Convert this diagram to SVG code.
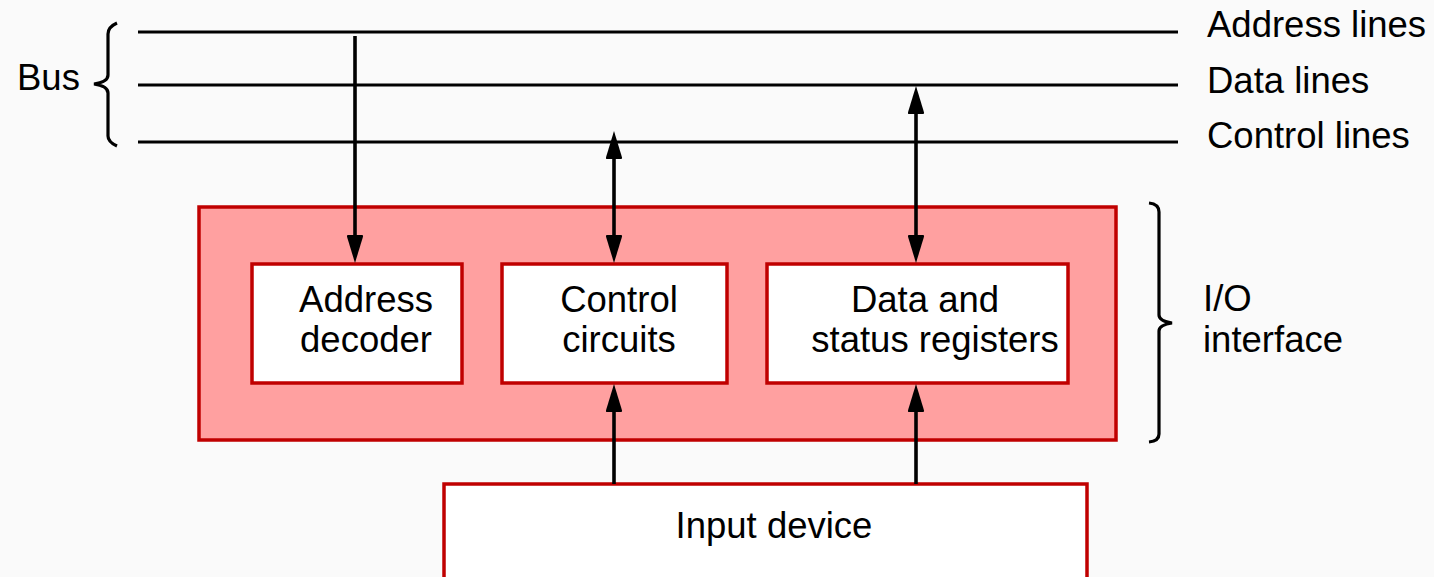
<svg xmlns="http://www.w3.org/2000/svg" width="1434" height="577" viewBox="0 0 1434 577">
<defs>
<style>
text{font-family:"Liberation Sans",Arial,sans-serif;font-size:36.5px;fill:#000}
.bus{stroke:#000;stroke-width:3.2;fill:none}
.box{fill:#fff;stroke:#C00000;stroke-width:3.5}
.conn{stroke:#000;stroke-width:3.6;fill:none}
.mid{text-anchor:middle}
</style>
<marker id="ah" viewBox="0 0 28 17" refX="20" refY="8.5" markerWidth="28" markerHeight="17" markerUnits="userSpaceOnUse" orient="auto-start-reverse">
<path d="M0,1.5 Q0,0 2,0.6 L28,8.5 L2,16.4 Q0,17 0,15.5 Z" fill="#000"/>
</marker>
</defs>
<rect width="1434" height="577" fill="#FAFAFA"/>
<g id="bus">
<line class="bus" x1="138" y1="32" x2="1178" y2="32"/>
<line class="bus" x1="138" y1="85" x2="1178" y2="85"/>
<line class="bus" x1="138" y1="142" x2="1178" y2="142"/>
<path class="bus" d="M117,23 Q108,27 108,34 L108,75 Q108,82 94,84 Q108,86 108,93 L108,136 Q108,142 117,146"/>
<text x="17" y="90">Bus</text>
<text x="1207" y="37">Address lines</text>
<text x="1207" y="93">Data lines</text>
<text x="1207" y="148">Control lines</text>
</g>
<g id="io-interface">
<rect x="199" y="207" width="917" height="233" fill="#FFA0A0" stroke="#C00000" stroke-width="3.5"/>
<path class="bus" d="M1149,203 Q1159,204 1159,212 L1159,315 Q1159,321 1172,323 Q1159,325 1159,331 L1159,434 Q1159,441 1149,442"/>
<text x="1203" y="311">I/O</text>
<text x="1203" y="352">interface</text>
</g>
<g id="address-decoder">
<rect class="box" x="252" y="264" width="210" height="119"/>
<text class="mid" x="366" y="312">Address</text>
<text class="mid" x="366" y="352">decoder</text>
</g>
<g id="control-circuits">
<rect class="box" x="502" y="264" width="225" height="119"/>
<text class="mid" x="619" y="312">Control</text>
<text class="mid" x="619" y="352">circuits</text>
</g>
<g id="data-status">
<rect class="box" x="767" y="264" width="301" height="119"/>
<text class="mid" x="925" y="312">Data and</text>
<text class="mid" x="935" y="352">status registers</text>
</g>
<g id="input-device">
<rect class="box" x="444" y="484" width="643" height="100"/>
<text class="mid" x="774" y="538">Input device</text>
</g>
<g id="connectors">
<line class="conn" x1="355" y1="36" x2="355" y2="255" marker-end="url(#ah)"/>
<line class="conn" x1="614" y1="139" x2="614" y2="255" marker-start="url(#ah)" marker-end="url(#ah)"/>
<line class="conn" x1="916" y1="94" x2="916" y2="255" marker-start="url(#ah)" marker-end="url(#ah)"/>
<line class="conn" x1="614" y1="484" x2="614" y2="392" marker-end="url(#ah)"/>
<line class="conn" x1="916" y1="484" x2="916" y2="392" marker-end="url(#ah)"/>
</g>
</svg>
